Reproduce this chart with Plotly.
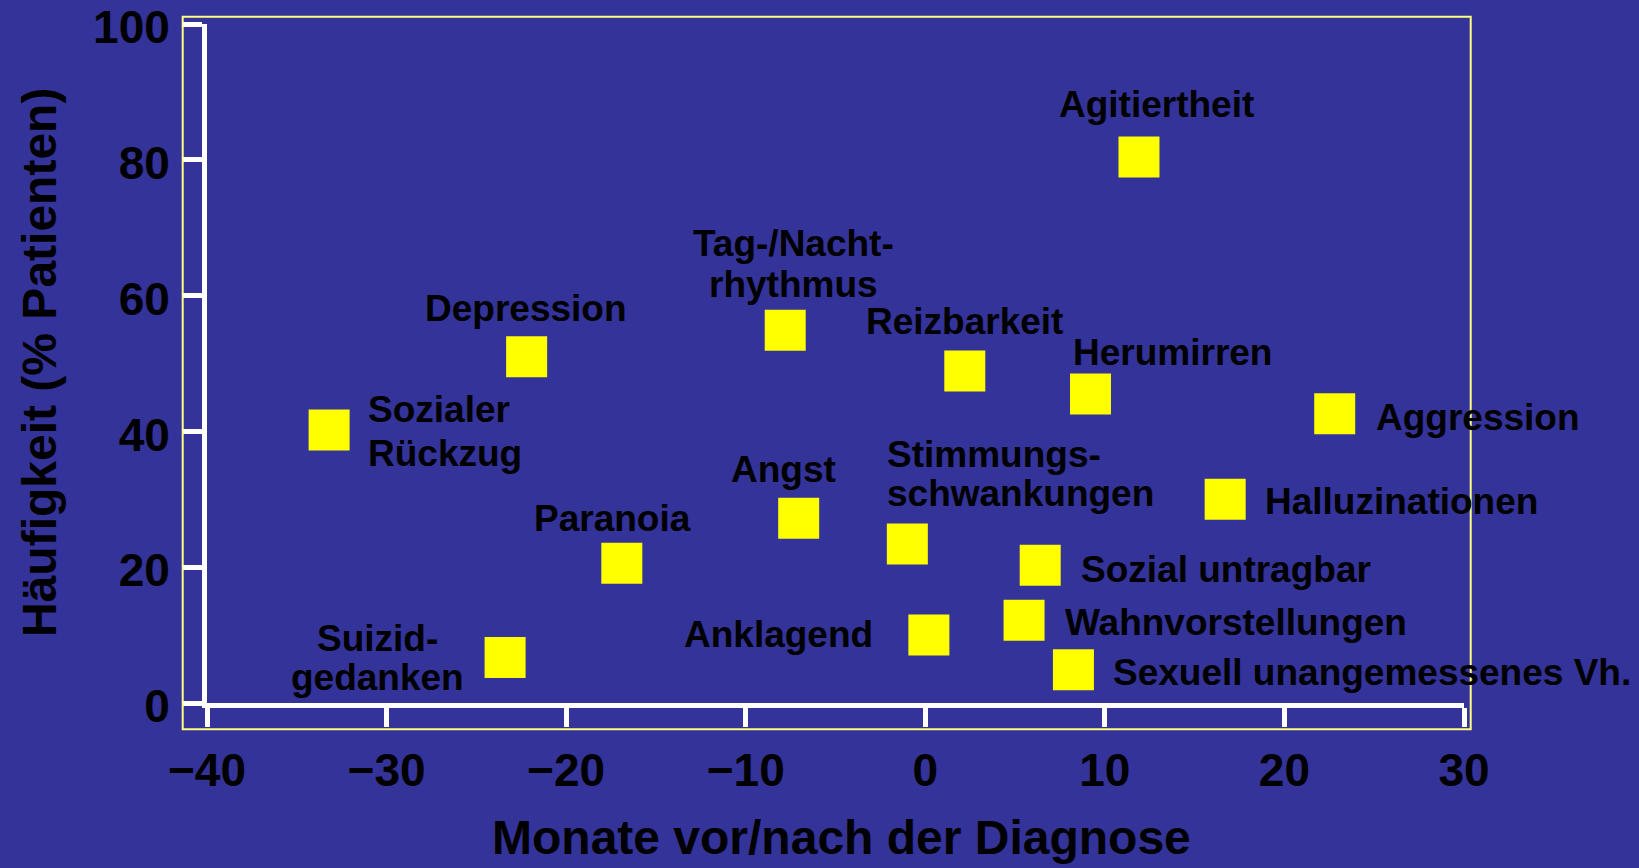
import plotly.graph_objects as go

# ---- data ----
symptoms = [
    "Agitiertheit", "Depression", "Sozialer<br>Rückzug", "Tag-/Nacht-<br>rhythmus",
    "Reizbarkeit", "Herumirren", "Aggression", "Halluzinationen", "Paranoia",
    "Angst", "Stimmungs-<br>schwankungen", "Sozial untragbar", "Wahnvorstellungen",
    "Anklagend", "Sexuell unangemessenes Vh.", "Suizid-<br>gedanken",
]
months = [11.9, -22.2, -33.2, -7.8, 2.2, 9.2, 22.8, 16.7, -16.9,
          -7.05, -1.0, 6.4, 5.5, 0.2, 8.25, -23.4]
frequency = [80.4, 51.0, 40.2, 54.9, 48.9, 45.5, 42.6, 30.0, 20.6,
             27.2, 23.4, 20.3, 12.2, 10.0, 4.9, 6.7]

x_ticks = [-40, -30, -20, -10, 0, 10, 20, 30]
y_ticks = [0, 20, 40, 60, 80, 100]

x_title = "Monate vor/nach der Diagnose"
y_title = "Häufigkeit (% Patienten)"

# ---- label placement (layout only): xshift, yshift of block centre (px), xanchor, line gap ----
label_layout = [
    (18, 53, "center", 0),
    (-1, 48, "center", 0),
    (37, -1, "left", 44),
    (8, 66, "center", 41),
    (0, 49, "center", 0),
    (-19, 42, "left", 0),
    (39, -4, "left", 0),
    (38, -2, "left", 0),
    (-9, 45, "center", 0),
    (-15, 49, "center", 0),
    (-22, 70, "left", 39),
    (39, -4, "left", 0),
    (39, -2, "left", 0),
    (-54, 1, "right", 0),
    (38, -3, "left", 0),
    (-128, 0, "center", 39),
]

BG = "#333399"
FONT = "Liberation Sans, Arial, sans-serif"
W, H = 1639, 868
ML, MR, MT, MB = 207, 175, 24, 165
PW, PH = W - ML - MR, H - MT - MB


def px_to_paper_x(px):
    return (px - ML) / PW


def px_to_paper_y(py):
    return (H - MB - py) / PH


fig = go.Figure()
fig.add_trace(go.Scatter(
    x=months, y=frequency, mode="markers",
    marker=dict(symbol="square", size=41, color="#ffff00", line=dict(width=0)),
    hoverinfo="skip", showlegend=False,
))

annotations = []
for name, xv, yv, (dx, dy, xa, gap) in zip(symptoms, months, frequency, label_layout):
    lines = name.split("<br>")
    n = len(lines)
    for i, line in enumerate(lines):
        off = ((n - 1) / 2 - i) * gap
        annotations.append(dict(
            x=xv, y=yv, xref="x", yref="y", text="<b>" + line + "</b>",
            showarrow=False, xshift=dx, yshift=dy + off,
            xanchor=xa, yanchor="middle",
            font=dict(family=FONT, size=37, color="black"),
        ))

# axis titles
annotations.append(dict(
    x=px_to_paper_x(841), y=px_to_paper_y(837), xref="paper", yref="paper",
    text="<b>" + x_title + "</b>", showarrow=False, xanchor="center", yanchor="middle",
    borderpad=0, font=dict(family=FONT, size=48, color="black"),
))
annotations.append(dict(
    x=px_to_paper_x(39), y=px_to_paper_y(363), xref="paper", yref="paper",
    text="<b>" + y_title + "</b>", showarrow=False, xanchor="center", yanchor="middle",
    textangle=-90, font=dict(family=FONT, size=48, color="black"),
))

# yellow frame around the plot
frame = dict(type="rect", xref="paper", yref="paper",
             x0=px_to_paper_x(182.7), x1=px_to_paper_x(1470.7),
             y0=px_to_paper_y(729.3), y1=px_to_paper_y(16.7),
             line=dict(color="#ffff80", width=2), fillcolor="rgba(0,0,0,0)", layer="below")

fig.update_layout(
    width=W, height=H,
    paper_bgcolor=BG, plot_bgcolor=BG,
    margin=dict(l=ML, r=MR, t=MT, b=MB, autoexpand=False),
    annotations=annotations,
    shapes=[frame],
    font=dict(family=FONT, color="black"),
)
fig.update_xaxes(
    range=[-40, 30], tickvals=x_ticks, showgrid=False, zeroline=False,
    showline=True, linecolor="white", linewidth=5, automargin=False,
    ticks="outside", ticklen=19, tickwidth=5, tickcolor="white",
    ticklabeloverflow="allow", ticklabelstandoff=4,
    tickfont=dict(family=FONT, size=46, color="black", weight="bold"),
)
fig.update_yaxes(
    range=[0, 100], tickvals=y_ticks, showgrid=False, zeroline=False,
    showline=True, linecolor="white", linewidth=5, automargin=False,
    ticks="outside", ticklen=19, tickwidth=5, tickcolor="white",
    ticklabeloverflow="allow", ticklabelstandoff=4, ticklabelshift=3,
    tickfont=dict(family=FONT, size=46, color="black", weight="bold"),
)

fig.write_html(
    "out.html",
    config={"displayModeBar": False},
    post_script="document.body.style.margin='0';document.body.style.background='#333399';",
)
